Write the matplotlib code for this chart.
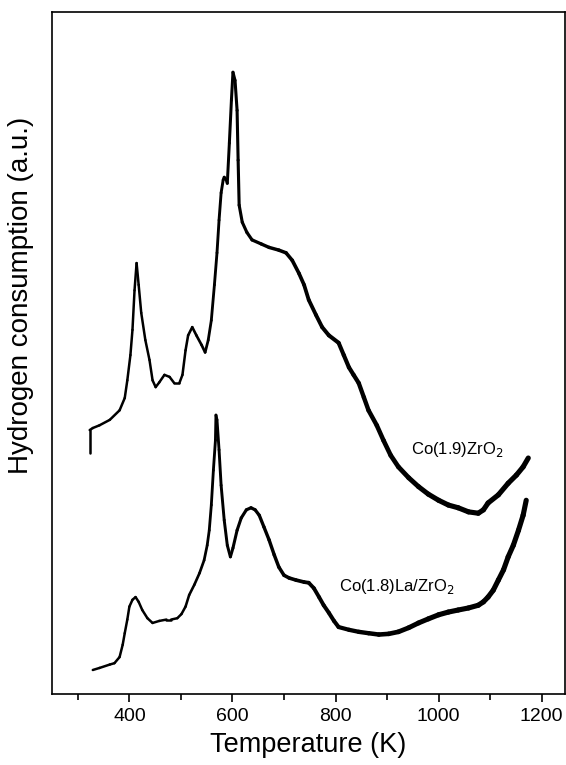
import matplotlib
matplotlib.use("Agg")
import numpy as np
import matplotlib.pyplot as plt
from matplotlib.collections import LineCollection
from matplotlib.ticker import MultipleLocator

plt.rcParams['font.family'] = ['Liberation Sans', 'DejaVu Sans']

# Co(1.9)ZrO2 TPR profile
temp_co_zr = [323, 323, 329, 342, 362, 381, 391, 396, 402, 406, 410, 414, 418, 423, 431,
              439, 445, 451, 458, 468, 478, 487, 497, 503, 509, 514, 522, 530, 540, 547,
              553, 559, 565, 570, 574, 578, 582, 584, 588, 590, 594, 598, 601, 605, 609,
              611, 613, 619, 628, 638, 656, 671, 690, 704, 716, 729, 739, 748, 762, 774,
              787, 806, 816, 826, 835, 845, 855, 864, 880, 893, 907, 922, 942, 961, 980,
              1000, 1019, 1038, 1058, 1077, 1087, 1096, 1116, 1135, 1151, 1164, 1174]
h2_co_zr = [35.3, 38.7, 39.0, 39.4, 40.2, 41.6, 43.4, 46.0, 49.7, 53.4, 59.2, 63.2, 60.0, 55.9, 51.9,
            49.0, 46.0, 45.0, 45.7, 46.8, 46.5, 45.6, 45.6, 46.8, 50.4, 52.6, 53.8, 52.6, 51.2, 50.1,
            51.9, 54.8, 60.0, 64.7, 69.5, 73.5, 75.4, 75.8, 75.4, 74.9, 80.8, 87.1, 91.2, 90.0, 85.6,
            78.3, 71.7, 69.2, 67.7, 66.6, 66.0, 65.5, 65.1, 64.7, 63.6, 61.7, 60.0, 57.8, 55.6, 53.8,
            52.6, 51.5, 49.7, 47.9, 46.8, 45.6, 43.5, 41.6, 39.4, 37.2, 35.0, 33.3, 31.7, 30.4, 29.3,
            28.4, 27.7, 27.3, 26.7, 26.5, 27.0, 28.0, 29.2, 30.9, 32.1, 33.3, 34.6]

# Co(1.8)La/ZrO2 TPR profile
temp_co_la = [329, 342, 362, 371, 381, 387, 391, 396, 400, 406, 412, 418, 425, 435, 445,
              458, 472, 481, 493, 501, 509, 516, 526, 536, 545, 551, 555, 559, 563, 567,
              568, 570, 574, 578, 584, 590, 596, 601, 609, 617, 627, 636, 644, 652, 661,
              671, 681, 690, 700, 710, 723, 739, 748, 758, 768, 777, 787, 797, 806, 826,
              845, 864, 884, 903, 922, 942, 961, 980, 1000, 1019, 1038, 1058, 1077, 1087, 1096,
              1106, 1116, 1126, 1135, 1145, 1155, 1164, 1170]
h2_co_la = [3.5, 3.8, 4.3, 4.5, 5.4, 7.2, 8.9, 10.9, 12.8, 13.8, 14.2, 13.5, 12.3, 11.1, 10.4,
            10.7, 10.9, 10.9, 11.1, 11.7, 12.8, 14.5, 16.0, 17.7, 19.6, 21.8, 24.0, 27.7, 32.8, 37.2,
            40.9, 40.2, 35.8, 30.6, 25.5, 21.8, 20.1, 21.4, 24.0, 25.8, 27.0, 27.3, 27.0, 26.2, 24.5,
            22.6, 20.4, 18.6, 17.4, 17.0, 16.7, 16.4, 16.3, 15.5, 14.2, 13.0, 11.9, 10.7, 9.8, 9.4,
            9.1, 8.9, 8.7, 8.8, 9.1, 9.7, 10.4, 11.0, 11.6, 12.0, 12.3, 12.6, 13.0, 13.5, 14.2,
            15.2, 16.7, 18.2, 20.1, 21.8, 24.0, 26.2, 28.4]


def draw_trace(ax, temp, signal):
    # the recorded trace gets noisier (thicker) towards high temperature
    pts = np.column_stack([temp, signal])
    segs = np.stack([pts[:-1], pts[1:]], axis=1)
    mid = 0.5 * (np.array(temp[:-1]) + np.array(temp[1:]))
    widths = 1.8 + 1.9 * np.clip((mid - 500) / 500, 0, 1)
    lc = LineCollection(segs, colors='black', linewidths=widths,
                        capstyle='round', joinstyle='round')
    ax.add_collection(lc)


fig = plt.figure(figsize=(5.66, 7.65), dpi=100)
ax = fig.add_axes([0.092, 0.093, 0.906, 0.891])

draw_trace(ax, temp_co_zr, h2_co_zr)
draw_trace(ax, temp_co_la, h2_co_la)

ax.text(946, 35.9, 'Co(1.9)ZrO$_2$', fontsize=12, va='center', ha='left')
ax.text(806, 15.7, 'Co(1.8)La/ZrO$_2$', fontsize=12, va='center', ha='left')

ax.set_xlim(250, 1245)
ax.set_ylim(0, 100)
ax.xaxis.set_major_locator(MultipleLocator(200))
ax.xaxis.set_minor_locator(MultipleLocator(100))
ax.set_yticks([])
ax.tick_params(axis='x', which='major', direction='out', length=6, width=1.2,
               labelsize=14, pad=4)
ax.tick_params(axis='x', which='minor', direction='out', length=4, width=1.2)
for sp in ax.spines.values():
    sp.set_linewidth(1.2)

ax.set_xlabel('Temperature (K)', fontsize=19.5, labelpad=5)
ax.set_ylabel('Hydrogen consumption (a.u.)', fontsize=20)
ax.yaxis.set_label_coords(-0.035, 0.585)

fig.savefig('out.png', dpi=100)
